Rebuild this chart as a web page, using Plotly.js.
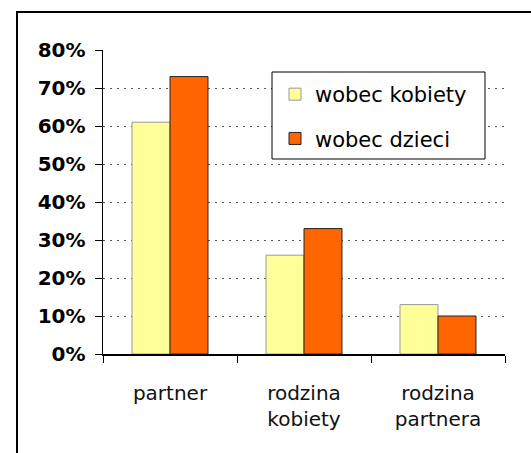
<!DOCTYPE html>
<html>
<head>
<meta charset="utf-8">
<script src="https://cdn.plot.ly/plotly-3.0.1.min.js"></script>
<style>html,body{margin:0;padding:0;background:#fff;}#chart{width:531px;height:453px;}</style>
</head>
<body>
<div id="chart"></div>
<script>
const categories = ["partner", "rodzina<br>kobiety", "rodzina<br>partnera"];
const seriesNames = ["wobec kobiety", "wobec dzieci"];
const wobecKobiety = [0.61, 0.26, 0.13];
const wobecDzieci = [0.73, 0.33, 0.10];

const font = "DejaVu Sans, Arial, sans-serif";

const traces = [
  {type: "bar", name: seriesNames[0], x: categories, y: wobecKobiety, legendgroup: "a",
   marker: {color: "#FFFF99", line: {color: "#999999", width: 1}}, hoverinfo: "skip"},
  {type: "bar", name: seriesNames[1], x: categories, y: wobecDzieci, legendgroup: "b",
   marker: {color: "#FF6600", line: {color: "#222222", width: 1}}, hoverinfo: "skip"}
];

const L = 103, R = 505, T = 50, B = 354, W = 531, H = 453;
const px = v => (v - L) / (R - L);
const py = v => (B - v) / (B - T);

const layout = {
  width: W, height: H,
  margin: {l: L, r: W - R, t: T, b: H - B, pad: 0},
  paper_bgcolor: "#fff", plot_bgcolor: "#fff",
  font: {family: font, color: "#000"},
  barmode: "group", bargap: 0.433, bargroupgap: 0,
  showlegend: true,
  legend: {x: px(275), y: py(74), xanchor: "left", yanchor: "top",
           font: {size: 21, family: font, color: "#000"},
           bgcolor: "rgba(0,0,0,0)", borderwidth: 0,
           tracegroupgap: 14, traceorder: "grouped"},
  xaxis: {type: "category", tickson: "boundaries", ticks: "outside", ticklen: 7, tickcolor: "#000",
          showline: true, linecolor: "#000", linewidth: 1.5, showgrid: false,
          tickfont: {size: 20, family: font, color: "#111"}, ticklabelstandoff: 20, fixedrange: true},
  yaxis: {range: [0, 0.8], dtick: 0.1, tickformat: ".0%", ticks: "outside", ticklen: 7, tickcolor: "#000",
          showline: true, linecolor: "#000", linewidth: 1.5, zeroline: false,
          showgrid: true, gridcolor: "#555", griddash: "2px,5px", gridwidth: 1,
          tickfont: {size: 20, family: font, color: "#000", weight: "bold"}, ticklabelstandoff: 5, fixedrange: true},
  shapes: [
    {type: "rect", xref: "paper", yref: "paper", x0: px(17), x1: px(545), y0: py(12), y1: py(470),
     line: {color: "#000", width: 2}, fillcolor: "rgba(0,0,0,0)", layer: "below"},
    {type: "rect", xref: "paper", yref: "paper", x0: px(272), x1: px(485), y0: py(72), y1: py(159),
     line: {color: "#000", width: 1}, fillcolor: "#fff", layer: "above"}
  ]
};

Plotly.newPlot("chart", traces, layout, {displayModeBar: false, staticPlot: true});
</script>
</body>
</html>
